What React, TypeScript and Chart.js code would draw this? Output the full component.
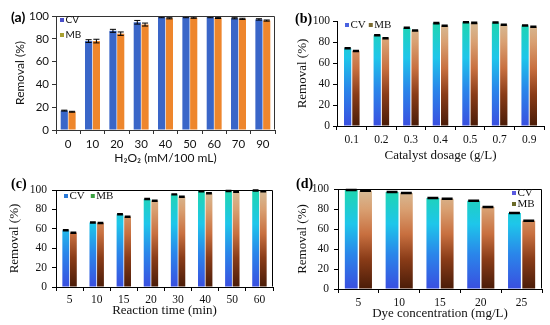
import React, { useEffect, useRef } from 'react';
import { Chart, registerables } from 'chart.js';
Chart.register(...registerables);

const seriesLabels = ['CV', 'MB'];
const yTitle = 'Removal (%)';

// Panel (a)
const aCats = ['0', '10', '20', '30', '40', '50', '60', '70', '90'];
const aCV = [17, 78, 87, 94.5, 99, 99, 99, 98, 97];
const aMB = [16, 78, 84.5, 92.5, 98, 98.5, 98.3, 97.5, 96];
const aCVErr = [0.4, 1.2, 1.3, 1.6, 0.5, 0.5, 0.5, 0.5, 0.6];
const aMBErr = [0.4, 1.6, 1.5, 1.3, 0.5, 0.5, 0.5, 0.5, 0.5];
const aXTitle = 'H₂O₂ (mM/100 mL)';

// Panel (b)
const bCats = ['0.1', '0.2', '0.3', '0.4', '0.5', '0.7', '0.9'];
const bCV = [74, 86.5, 93.5, 98, 98.8, 98.5, 95.8];
const bMB = [71.5, 83.5, 91, 95.5, 98.2, 96.5, 94.5];
const bCVErr = [0.5, 0.5, 0.5, 0.5, 0.5, 0.5, 0.5];
const bMBErr = [0.5, 0.5, 0.5, 0.5, 0.5, 0.5, 0.5];
const bXTitle = 'Catalyst dosage (g/L)';

// Panel (c)
const cCats = ['5', '10', '15', '20', '30', '40', '50', '60'];
const cCV = [58.5, 66.5, 75, 90.7, 95.5, 98.8, 99, 99.5];
const cMB = [56, 66, 72.5, 89, 93, 96.6, 98.3, 98.8];
const cCVErr = [0.5, 0.5, 0.5, 0.5, 0.5, 0.5, 0.5, 0.5];
const cMBErr = [0.5, 0.5, 0.5, 0.5, 0.5, 0.5, 0.5, 0.5];
const cXTitle = 'Reaction time (min)';

// Panel (d)
const dCats = ['5', '10', '15', '20', '25'];
const dCV = [99, 97, 91, 88.2, 76];
const dMB = [98.3, 96, 90.3, 82, 68.3];
const dCVErr = [0.5, 0.5, 0.5, 0.5, 0.5];
const dMBErr = [0.5, 0.5, 0.5, 0.5, 0.5];
const dXTitle = 'Dye concentration (mg/L)';

const SANS = 'Lato, "Liberation Sans", sans-serif';
const SERIF = '"Liberation Serif", "DejaVu Serif", serif';

const CV_STOPS: [number, string][] = [
  [0, '#3a4fe0'],
  [0.35, '#2a86ea'],
  [0.65, '#1ec6ea'],
  [1, '#1fd6ae'],
];
const MB_STOPS: [number, string][] = [
  [0, '#4a1c08'],
  [0.3, '#8a3c18'],
  [0.55, '#c87040'],
  [0.8, '#d9a072'],
  [1, '#d6bc98'],
];

function makeGrad(chart: any, stops: [number, string][], fallback: string) {
  const ca = chart.chartArea;
  if (!ca) return fallback;
  const g = chart.ctx.createLinearGradient(0, ca.bottom, 0, ca.top);
  stops.forEach(([o, c]) => g.addColorStop(o, c));
  return g;
}

const errorBarPlugin = {
  id: 'errBars',
  afterDatasetsDraw(chart: any, _args: any, opts: any) {
    const { ctx } = chart;
    const yScale = chart.scales.y;
    ctx.save();
    ctx.strokeStyle = '#000';
    chart.data.datasets.forEach((ds: any, di: number) => {
      const meta = chart.getDatasetMeta(di);
      if (!ds.errors) return;
      meta.data.forEach((el: any, i: number) => {
        const v = ds.data[i];
        const e = ds.errors[i];
        const yT = yScale.getPixelForValue(v + e);
        const yB = yScale.getPixelForValue(v - e);
        const w = el.width * (opts.cap ?? 0.8);
        ctx.lineWidth = opts.lw ?? 1;
        ctx.beginPath();
        ctx.moveTo(el.x, yT);
        ctx.lineTo(el.x, yB);
        ctx.moveTo(el.x - w / 2, yT);
        ctx.lineTo(el.x + w / 2, yT);
        ctx.moveTo(el.x - w / 2, yB);
        ctx.lineTo(el.x + w / 2, yB);
        ctx.stroke();
      });
    });
    ctx.restore();
  },
};

const framePlugin = {
  id: 'frame',
  afterDraw(chart: any, _args: any, opts: any) {
    if (!opts || !opts.show) return;
    const { ctx, chartArea: ca } = chart;
    ctx.save();
    ctx.strokeStyle = opts.color || '#000';
    ctx.lineWidth = 1;
    ctx.beginPath();
    ctx.moveTo(Math.round(ca.left) + 0.5, Math.round(ca.top) + 0.5);
    ctx.lineTo(Math.round(ca.right) - 0.5, Math.round(ca.top) + 0.5);
    ctx.lineTo(Math.round(ca.right) - 0.5, Math.round(ca.bottom) - 0.5);
    ctx.stroke();
    ctx.restore();
  },
};

const legendPlugin = {
  id: 'miniLegend',
  afterDraw(chart: any, _args: any, opts: any) {
    if (!opts || !opts.show) return;
    const { ctx, chartArea: ca } = chart;
    ctx.save();
    ctx.font = opts.fontStr;
    ctx.textBaseline = 'middle';
    ctx.textAlign = 'left';
    let x = ca.left + opts.dx;
    let y = ca.top + opts.dy;
    if (opts.fromRight) x = ca.right - opts.dx;
    chart.data.datasets.forEach((ds: any) => {
      ctx.fillStyle = ds.legendColor;
      ctx.fillRect(x, y - opts.box / 2, opts.box, opts.box);
      ctx.fillStyle = '#111';
      ctx.fillText(ds.label, x + opts.box + 1.5, y);
      if (opts.dir === 'row') x += opts.box + 1.5 + ctx.measureText(ds.label).width + opts.gap;
      else y += opts.gap;
    });
    ctx.restore();
  },
};

type Cfg = {
  cats: string[];
  cv: number[];
  mb: number[];
  cvErr: number[];
  mbErr: number[];
  xTitle: string;
  left: number;
  top: number;
  width: number;
  height: number;
  pad: { left: number; top: number; right: number; bottom: number };
  yWidth: number;
  xHeight: number;
  family: string;
  tickSize: number;
  titleSize: number;
  yTitleOffset: number;
  yTickPad: number;
  xTickPad: number;
  xTitleBottom: number;
  frame: boolean;
  gradient: boolean;
  catPct: number;
  barPct: number;
  legend: any;
  cvLegend: string;
  mbLegend: string;
  letter: string;
  letterX: number;
  letterY: number;
  letterFont: string;
  axisColor: string;
  capLw: number;
};

function Panel({ cfg }: { cfg: Cfg }) {
  const ref = useRef<HTMLCanvasElement>(null);
  useEffect(() => {
    if (!ref.current) return;
    const chart = new Chart(ref.current, {
      type: 'bar',
      data: {
        labels: cfg.cats,
        datasets: [
          {
            label: seriesLabels[0],
            data: cfg.cv,
            errors: cfg.cvErr,
            legendColor: cfg.cvLegend,
            backgroundColor: cfg.gradient
              ? (c: any) => makeGrad(c.chart, CV_STOPS, '#2a86ea')
              : '#3a66c8',
            borderWidth: 0,
            categoryPercentage: cfg.catPct,
            barPercentage: cfg.barPct,
          } as any,
          {
            label: seriesLabels[1],
            data: cfg.mb,
            errors: cfg.mbErr,
            legendColor: cfg.mbLegend,
            backgroundColor: cfg.gradient
              ? (c: any) => makeGrad(c.chart, MB_STOPS, '#a24c22')
              : '#ee862c',
            borderWidth: 0,
            categoryPercentage: cfg.catPct,
            barPercentage: cfg.barPct,
          } as any,
        ],
      },
      options: {
        animation: false,
        responsive: false,
        maintainAspectRatio: false,
        devicePixelRatio: 1,
        layout: { padding: cfg.pad },
        plugins: {
          legend: { display: false },
          tooltip: { enabled: false },
          errBars: { cap: 0.85, lw: cfg.capLw },
          frame: { show: cfg.frame, color: cfg.axisColor },
          miniLegend: cfg.legend,
        } as any,
        scales: {
          x: {
            type: 'category',
            offset: true,
            grid: {
              display: true,
              offset: true,
              drawOnChartArea: false,
              drawTicks: true,
              tickLength: 4,
              color: cfg.axisColor,
            },
            border: { display: true, color: cfg.axisColor, width: 1 },
            ticks: {
              color: '#111',
              padding: cfg.xTickPad,
              maxRotation: 0,
              autoSkip: false,
              font: { family: cfg.family, size: cfg.tickSize },
            },
            title: {
              display: true,
              text: cfg.xTitle,
              color: '#111',
              font: { family: cfg.family, size: cfg.titleSize },
              padding: { top: 0, bottom: cfg.xTitleBottom },
            },
            afterFit: (s: any) => {
              s.height = cfg.xHeight;
            },
          },
          y: {
            min: 0,
            max: 100,
            ticks: {
              stepSize: 20,
              color: '#111',
              padding: cfg.yTickPad,
              font: { family: cfg.family, size: cfg.tickSize },
            },
            grid: {
              display: true,
              drawOnChartArea: false,
              drawTicks: true,
              tickLength: 4,
              color: cfg.axisColor,
            },
            border: { display: true, color: cfg.axisColor, width: 1 },
            title: {
              display: true,
              text: yTitle,
              color: '#111',
              font: { family: cfg.family, size: cfg.titleSize },
              padding: { top: cfg.yTitleOffset, bottom: 0 },
            },
            afterFit: (s: any) => {
              s.width = cfg.yWidth;
            },
          },
        },
      },
      plugins: [errorBarPlugin, framePlugin, legendPlugin],
    } as any);
    return () => chart.destroy();
  }, []);
  return (
    <div
      style={{
        position: 'absolute',
        left: cfg.left,
        top: cfg.top,
        width: cfg.width,
        height: cfg.height,
      }}
    >
      <canvas
        ref={ref}
        width={cfg.width}
        height={cfg.height}
        style={{ width: cfg.width, height: cfg.height, display: 'block' }}
      />
      <div
        style={{
          position: 'absolute',
          left: cfg.letterX,
          top: cfg.letterY,
          font: cfg.letterFont,
          lineHeight: '14px',
          color: '#000',
          whiteSpace: 'nowrap',
        }}
      >
        {cfg.letter}
      </div>
    </div>
  );
}

const panels: Cfg[] = [
  {
    cats: aCats, cv: aCV, mb: aMB, cvErr: aCVErr, mbErr: aMBErr, xTitle: aXTitle,
    left: 0, top: 0, width: 280, height: 165,
    pad: { left: 0, top: 16, right: 5, bottom: 0 },
    yWidth: 56, xHeight: 35,
    family: SANS, tickSize: 11.5, titleSize: 12,
    yTitleOffset: 13, yTickPad: 3, xTickPad: 3, xTitleBottom: 0,
    frame: true, gradient: false, catPct: 0.64, barPct: 0.92,
    legend: { show: true, dx: 4, dy: 4, dir: 'col', gap: 15, box: 4, fontStr: '10px Lato, "Liberation Sans", sans-serif' },
    cvLegend: '#4a4fc8', mbLegend: '#a8a030',
    letter: '(a)', letterX: 11, letterY: 10, letterFont: 'bold 14px Lato, "Liberation Sans", sans-serif',
    axisColor: '#333', capLw: 1,
  },
  {
    cats: bCats, cv: bCV, mb: bMB, cvErr: bCVErr, mbErr: bMBErr, xTitle: bXTitle,
    left: 280, top: 0, width: 270, height: 165,
    pad: { left: 0, top: 21, right: 6, bottom: 0 },
    yWidth: 57, xHeight: 39,
    family: SERIF, tickSize: 11.5, titleSize: 13,
    yTitleOffset: 15, yTickPad: 3, xTickPad: 3, xTitleBottom: 2,
    frame: false, gradient: true, catPct: 0.56, barPct: 0.88,
    legend: { show: true, dx: 8, dy: 4, dir: 'row', gap: 3, box: 4, fontStr: '11px "Liberation Serif", serif' },
    cvLegend: '#4a62e0', mbLegend: '#7a6a30',
    letter: '(b)', letterX: 15, letterY: 12, letterFont: 'bold 14px "Liberation Serif", serif',
    axisColor: '#000', capLw: 1.5,
  },
  {
    cats: cCats, cv: cCV, mb: cMB, cvErr: cCVErr, mbErr: cMBErr, xTitle: cXTitle,
    left: 0, top: 165, width: 280, height: 160,
    pad: { left: 0, top: 25, right: 7, bottom: 0 },
    yWidth: 56, xHeight: 38,
    family: SERIF, tickSize: 11.5, titleSize: 13,
    yTitleOffset: 7, yTickPad: 5, xTickPad: 2, xTitleBottom: 7,
    frame: true, gradient: true, catPct: 0.56, barPct: 0.9,
    legend: { show: true, dx: 8, dy: 6, dir: 'row', gap: 6, box: 4, fontStr: '11px "Liberation Serif", serif' },
    cvLegend: '#2a7ad8', mbLegend: '#3aa040',
    letter: '(c)', letterX: 11, letterY: 12, letterFont: 'bold 14px "Liberation Serif", serif',
    axisColor: '#000', capLw: 1.5,
  },
  {
    cats: dCats, cv: dCV, mb: dMB, cvErr: dCVErr, mbErr: dMBErr, xTitle: dXTitle,
    left: 280, top: 165, width: 270, height: 160,
    pad: { left: 0, top: 24, right: 8, bottom: 0 },
    yWidth: 58, xHeight: 36,
    family: SERIF, tickSize: 11.5, titleSize: 13,
    yTitleOffset: 15, yTickPad: 5, xTickPad: 3, xTitleBottom: 4,
    frame: true, gradient: true, catPct: 0.7, barPct: 0.9,
    legend: { show: true, fromRight: true, dx: 30, dy: 4, dir: 'col', gap: 11, box: 4, fontStr: '11px "Liberation Serif", serif' },
    cvLegend: '#5a5ae0', mbLegend: '#6a6a28',
    letter: '(d)', letterX: 16, letterY: 12, letterFont: 'bold 14px "Liberation Serif", serif',
    axisColor: '#000', capLw: 1.5,
  },
];

export default function App() {
  return (
    <div
      style={{
        position: 'absolute',
        left: 0,
        top: 0,
        width: 550,
        height: 325,
        background: '#fff',
        overflow: 'hidden',
      }}
    >
      {panels.map((p) => (
        <Panel key={p.letter} cfg={p} />
      ))}
    </div>
  );
}
